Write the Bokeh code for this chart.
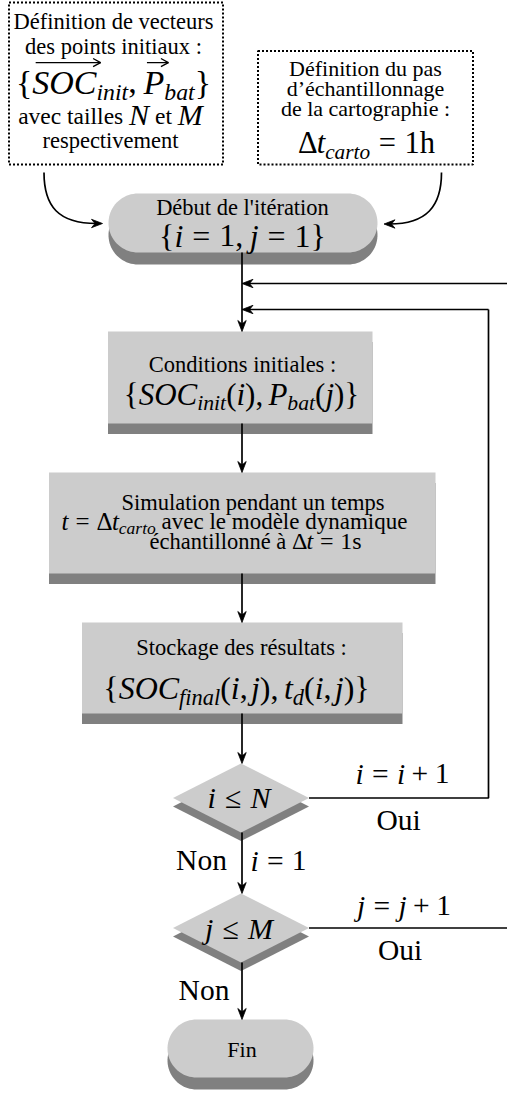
import numpy as np
from bokeh.plotting import figure
from bokeh.models import Range1d, ColumnDataSource
from bokeh.core.properties import value
from bokeh.embed import file_html
from bokeh.resources import INLINE

# ---------------- chart content (labels) ----------------
left_input_text = ["Définition de vecteurs", "des points initiaux :", "respectivement"]
left_input_sizes = ["avec tailles ", " et "]
right_input_text = ["Définition du pas", "d’échantillonnage", "de la cartographie :"]
start_text = "Début de l'itération"
cond_text = "Conditions initiales :"
sim_text = ["Simulation pendant un temps", " avec le modèle dynamique", "échantillonné à "]
store_text = "Stockage des résultats :"
end_text = "Fin"
yes_label = "Oui"
no_label = "Non"

# math pieces: (kind, text) kind: t=text, r=math roman, i=math italic, ia=italic with over-arrow,
# s=italic subscript, g=gap (em)
math_vectors = [("r", "{"), ("ia", "SOC"), ("s", "init"), ("r", ","), ("g", 0.2),
                ("ia", "P"), ("s", "bat"), ("r", "}")]
math_sizes = [("t", left_input_sizes[0]), ("i", "N"), ("t", left_input_sizes[1]), ("i", "M")]
math_step = [("r", "Δ"), ("i", "t"), ("s", "carto"), ("g", 0.28), ("r", "="), ("g", 0.28), ("r", "1h")]
math_start = [("r", "{"), ("i", "i"), ("g", 0.28), ("r", "="), ("g", 0.28), ("r", "1,"), ("g", 0.2),
              ("i", "j"), ("g", 0.28), ("r", "="), ("g", 0.28), ("r", "1}")]
math_cond = [("r", "{"), ("i", "SOC"), ("s", "init"), ("r", "("), ("i", "i"), ("r", "),"), ("g", 0.17),
             ("i", "P"), ("s", "bat"), ("r", "("), ("i", "j"), ("r", ")}")]
math_sim2 = [("i", "t"), ("g", 0.28), ("r", "="), ("g", 0.28), ("r", "Δ"), ("i", "t"), ("s", "carto"),
             ("t", sim_text[1])]
math_sim3 = [("t", sim_text[2]), ("r", "Δ"), ("i", "t"), ("g", 0.28), ("r", "="), ("g", 0.28), ("r", "1s")]
math_store = [("r", "{"), ("i", "SOC"), ("s", "final"), ("r", "("), ("i", "i"), ("r", ","), ("g", 0.1),
              ("i", "j"), ("r", "),"), ("g", 0.17), ("i", "t"), ("s", "d"), ("r", "("), ("i", "i"),
              ("r", ","), ("g", 0.1), ("i", "j"), ("r", ")}")]
math_cond_i = [("i", "i"), ("g", 0.3), ("r", "≤"), ("g", 0.3), ("i", "N")]
math_cond_j = [("i", "j"), ("g", 0.3), ("r", "≤"), ("g", 0.3), ("i", "M")]
math_inc_i = [("i", "i"), ("g", 0.28), ("r", "="), ("g", 0.28), ("i", "i"), ("g", 0.22), ("r", "+"),
              ("g", 0.22), ("r", "1")]
math_inc_j = [("i", "j"), ("g", 0.28), ("r", "="), ("g", 0.28), ("i", "j"), ("g", 0.22), ("r", "+"),
              ("g", 0.22), ("r", "1")]
math_reset_i = [("i", "i"), ("g", 0.28), ("r", "="), ("g", 0.28), ("r", "1")]

FONT = "Liberation Serif"
LIGHT = "#cccccc"
DARK = "#808080"
BASE_FIX = 0.3  # em: compensates the renderer's alphabetic-baseline offset

# ---------------- figure ----------------
PW, PH = 507, 1093
p = figure(width=PW, height=PH, x_range=Range1d(0, PW), y_range=Range1d(PH, 0),
           output_backend="svg", toolbar_location=None, min_border=0,
           x_axis_location=None, y_axis_location=None)
p.grid.visible = False
p.outline_line_color = None
p.background_fill_color = "white"
p.border_fill_color = "white"

# ---------------- font metrics (Times) ----------------
ROMAN = {' ': 250, '\u00a0': 250, '(': 333, ')': 333, '+': 564, ',': 250, '.': 250, ':': 278,
         '=': 564, '1': 500, '{': 480, '}': 480, 'Δ': 612, '≤': 549, "'": 180, '’': 333,
         'a': 444, 'b': 500, 'c': 444, 'd': 500, 'e': 444, 'f': 333, 'g': 500, 'h': 500,
         'i': 278, 'j': 278, 'k': 500, 'l': 278, 'm': 778, 'n': 500, 'o': 500, 'p': 500,
         'q': 500, 'r': 333, 's': 389, 't': 278, 'u': 500, 'v': 500, 'x': 500, 'y': 500,
         'é': 444, 'è': 444, 'à': 444, 'N': 722, 'M': 889, 'S': 556, 'D': 722}
ITALIC = {'S': 500, 'O': 722, 'C': 667, 'P': 611, 'N': 667, 'M': 833, 'i': 278, 'n': 500,
          't': 278, 'b': 500, 'a': 500, 'c': 444, 'r': 389, 'o': 500, 'j': 278, 'f': 278,
          'l': 278, 'd': 500}


def seg_width(t, tbl, fs):
    return sum(tbl.get(c, 500) for c in t) / 1000.0 * fs


TXT = {}
OVER = []


def put(x, y, t, fs, style="normal", align="left"):
    if t.startswith(" "):
        t = "\u00a0" + t[1:]
    if t.endswith(" "):
        t = t[:-1] + "\u00a0"
    d = TXT.setdefault((style, align), dict(x=[], y=[], text=[], size=[]))
    d["x"].append(x)
    d["y"].append(y - BASE_FIX * fs)
    d["text"].append(t)
    d["size"].append(f"{fs:.1f}px")


def rich(cx, base, segs, size, msize=None):
    msize = msize or size
    items = []
    x = 0.0
    for kind, t in segs:
        if kind == "g":
            x += t * msize
            continue
        if kind == "t":
            fs, tbl, dy, st = size, ROMAN, 0, "normal"
        elif kind == "r":
            fs, tbl, dy, st = msize, ROMAN, 0, "normal"
        elif kind in ("i", "ia"):
            fs, tbl, dy, st = msize, ITALIC, 0, "italic"
        else:
            fs, tbl, dy, st = msize * 0.7, ITALIC, msize * 0.2, "italic"
        w = seg_width(t, tbl, fs)
        items.append((x, dy, t, fs, st, w, kind))
        x += w
    x0 = cx - x / 2
    for (xx, dy, t, fs, st, w, kind) in items:
        put(x0 + xx, base + dy, t, fs, st)
        if kind == "ia":
            OVER.append((x0 + xx + 0.1 * fs, x0 + xx + w + 0.12 * fs, base - 0.88 * fs, fs))


# ---------------- shapes ----------------
def stadium(xa, xb, ya, yb, n=40):
    r = (yb - ya) / 2
    cy = (ya + yb) / 2
    xs, ys = [], []
    for a in np.linspace(-np.pi / 2, np.pi / 2, n):
        xs.append(xb - r + r * np.cos(a)); ys.append(cy + r * np.sin(a))
    for a in np.linspace(np.pi / 2, 3 * np.pi / 2, n):
        xs.append(xa + r + r * np.cos(a)); ys.append(cy + r * np.sin(a))
    return xs, ys


def diamond(cx, cy, hw, hh):
    return [cx, cx + hw, cx, cx - hw], [cy - hh, cy, cy + hh, cy]


SHX, SHY, LTX, LTY = [], [], [], []
for (xa, xb, ya, yb, off) in [(108, 377, 193, 252, 12), (167, 313, 1019, 1077, 12)]:
    xs, ys = stadium(xa, xb, ya + off, yb + off)
    SHX.append(xs); SHY.append(ys)
    xs, ys = stadium(xa, xb, ya, yb)
    LTX.append(xs); LTY.append(ys)
for (cx, cy) in [(240.5, 797.5), (240.5, 927.5)]:
    xs, ys = diamond(cx, cy + 8.5, 68, 34.5)
    SHX.append(xs); SHY.append(ys)
    xs, ys = diamond(cx, cy, 68, 34.5)
    LTX.append(xs); LTY.append(ys)

p.patches(SHX, SHY, fill_color=DARK, line_color=None)
boxes = dict(left=[107.5, 48.5, 81.5], right=[372, 435, 402], top=[331, 472, 622], bottom=[423, 573, 713])
p.quad(left=boxes["left"], right=boxes["right"], top=[t + 10.5 for t in boxes["top"]],
       bottom=[b + 10.5 for b in boxes["bottom"]], fill_color=DARK, line_color=None)
p.quad(left=boxes["left"], right=boxes["right"], top=boxes["top"], bottom=boxes["bottom"],
       fill_color=LIGHT, line_color=None)
p.patches(LTX, LTY, fill_color=LIGHT, line_color=None)

# dotted input boxes
p.quad(left=[8.5, 257.5], right=[222.5, 472.5], top=[2, 50.5], bottom=[164, 164],
       fill_color=None, line_color="black", line_width=2, line_dash="2 2")

# ---------------- connectors ----------------
LX, LY = [], []
AHX, AHY = [], []


def head(tx, ty, dx, dy, L=11.0, W=4.2, N=3.5):
    n = np.hypot(dx, dy)
    dx, dy = dx / n, dy / n
    nx, ny = -dy, dx
    AHX.append([tx, tx - L * dx + W * nx, tx - (L - N) * dx, tx - L * dx - W * nx])
    AHY.append([ty, ty - L * dy + W * ny, ty - (L - N) * dy, ty - L * dy - W * ny])


def seg(xs, ys):
    LX.append(xs); LY.append(ys)


MX = 241.5
for (ya, yb) in [(252, 331), (423, 472), (573, 622), (713, 763), (832, 893), (962, 1019)]:
    seg([MX, MX], [ya, yb - 5])
    head(MX, yb, 0, 1)
seg([510, MX + 5], [283, 283]); head(MX, 283, -1, 0)
seg([488, MX + 5], [309, 309]); head(MX, 309, -1, 0)
seg([308.5, 488, 488], [797.5, 797.5, 309])
seg([308.5, 510], [927.5, 927.5])

p.multi_line(LX, LY, line_color="black", line_width=1.7)
p.bezier(x0=[43.5, 441], y0=[172, 172], x1=[96, 389], y1=[223, 223.5],
         cx0=[43.5, 441], cy0=[206, 206], cx1=[58, 426], cy1=[223, 223.5],
         line_color="black", line_width=1.7)
head(102, 223, 1, 0)
head(383.5, 223.5, -1, 0)

# ---------------- texts ----------------
for i, t in enumerate(left_input_text[:2]):
    put(113, [28, 53][i], t, 22.5, align="center")
rich(113, 92, math_vectors, 34)
rich(110, 123, math_sizes, 23.5, 30)
put(110, 147, left_input_text[2], 22.5, align="center")

for i, t in enumerate(right_input_text):
    put(365, [75, 95, 115][i], t, 22, align="center")
rich(366, 152, math_step, 30.5)

put(242, 214, start_text, 22.5, align="center")
rich(242, 245, math_start, 32)

put(242, 371, cond_text, 22.5, align="center")
rich(241, 403, math_cond, 31)

put(252.5, 509, sim_text[0], 22.5, align="center")
rich(234, 528, math_sim2, 23, 25)
rich(255, 548, math_sim3, 22.5, 24)

put(241, 654, store_text, 22.5, align="center")
rich(236, 697, math_store, 32)

rich(238.5, 806, math_cond_i, 30)
rich(238.5, 937, math_cond_j, 30)
rich(402, 782, math_inc_i, 29.5)
rich(403.5, 914, math_inc_j, 29.5)
rich(278, 869, math_reset_i, 29.5)

put(398, 828, yes_label, 29.5, align="center")
put(399.5, 958, yes_label, 29.5, align="center")
put(201, 868, no_label, 29.5, align="center")
put(203.5, 998, no_label, 29.5, align="center")
put(241.5, 1056, end_text, 22, align="center")

OX, OY = [], []
for (xa, xb, yy, fs) in OVER:
    OX.append([xa, xb]); OY.append([yy, yy])
    hl, hw = 0.22 * fs, 0.12 * fs
    OX.append([xb - hl, xb, xb - hl]); OY.append([yy - hw, yy, yy + hw])
p.multi_line(OX, OY, line_color="black", line_width=1.3)

p.patches(AHX, AHY, fill_color="black", line_color="black", line_width=0.8)

for (st, al), d in TXT.items():
    src = ColumnDataSource(d)
    p.text(x="x", y="y", text="text", source=src, text_font=value(FONT),
           text_font_size="size", text_font_style=st, text_align=al,
           text_baseline="alphabetic", text_color="black")

open("out.html", "w").write(file_html(p, INLINE))
